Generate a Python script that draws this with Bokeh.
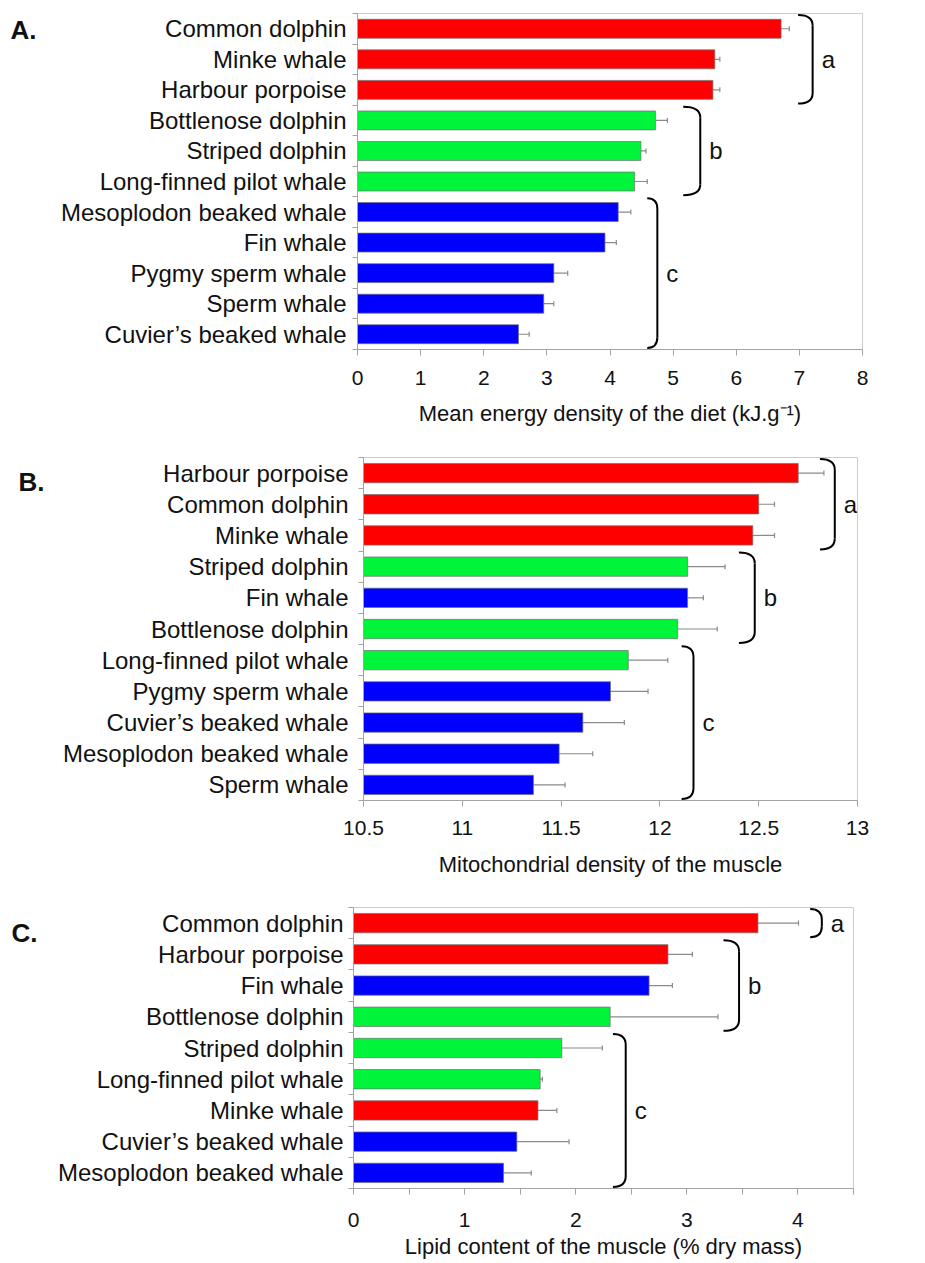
from bokeh.plotting import figure
from bokeh.models import Range1d, FixedTicker, Whisker, TeeHead, ColumnDataSource
from bokeh.layouts import column, row
from bokeh.embed import file_html
from bokeh.resources import INLINE
from bokeh.core.properties import value

# ---------------- data ----------------
# Diet class colour of each species (from panel A grouping)
RED_SPECIES = ["Common dolphin", "Minke whale", "Harbour porpoise"]
GREEN_SPECIES = ["Bottlenose dolphin", "Striped dolphin", "Long-finned pilot whale"]

# Panel A: mean energy density of the diet (kJ.g-1)
A_species = ["Common dolphin", "Minke whale", "Harbour porpoise", "Bottlenose dolphin",
             "Striped dolphin", "Long-finned pilot whale", "Mesoplodon beaked whale",
             "Fin whale", "Pygmy sperm whale", "Sperm whale", "Cuvier\u2019s beaked whale"]
A_values = [6.71, 5.66, 5.63, 4.72, 4.49, 4.39, 4.13, 3.92, 3.11, 2.95, 2.55]
A_errors = [0.13, 0.08, 0.11, 0.19, 0.08, 0.20, 0.20, 0.18, 0.22, 0.16, 0.17]
A_letters = ["a", "b", "c"]
A_spans = [(0, 2), (3, 5), (6, 10)]

# Panel B: mitochondrial density of the muscle
B_species = ["Harbour porpoise", "Common dolphin", "Minke whale", "Striped dolphin",
             "Fin whale", "Bottlenose dolphin", "Long-finned pilot whale",
             "Pygmy sperm whale", "Cuvier\u2019s beaked whale", "Mesoplodon beaked whale",
             "Sperm whale"]
B_values = [12.70, 12.50, 12.47, 12.14, 12.14, 12.09, 11.84, 11.75, 11.61, 11.49, 11.36]
B_errors = [0.13, 0.08, 0.11, 0.19, 0.08, 0.20, 0.20, 0.19, 0.21, 0.17, 0.16]
B_letters = ["a", "b", "c"]
B_spans = [(0, 2), (3, 5), (6, 10)]

# Panel C: lipid content of the muscle (% dry mass)
C_species = ["Common dolphin", "Harbour porpoise", "Fin whale", "Bottlenose dolphin",
             "Striped dolphin", "Long-finned pilot whale", "Minke whale",
             "Cuvier\u2019s beaked whale", "Mesoplodon beaked whale"]
C_values = [3.64, 2.83, 2.66, 2.31, 1.875, 1.68, 1.66, 1.47, 1.35]
C_errors = [0.365, 0.22, 0.21, 0.97, 0.365, 0.02, 0.17, 0.47, 0.25]
C_letters = ["a", "b", "c"]
C_spans = [(0, 0), (1, 3), (4, 8)]

# ---------------- layout / style ----------------
COLORS = {"red": "#ff0000", "green": "#00f53a", "blue": "#0000ff"}
GRAY = "#a3a3a3"
FONT = "Liberation Sans"
W = 925      # page width
LW = 50      # width of the strip that carries the panel letter


def colour_of(name):
    if name in RED_SPECIES:
        return COLORS["red"]
    if name in GREEN_SPECIES:
        return COLORS["green"]
    return COLORS["blue"]


def letter_strip(text, height, lx, ly):
    q = figure(width=LW, height=height, output_backend="svg", toolbar_location=None,
               x_range=Range1d(0, LW), y_range=Range1d(height, 0),
               x_axis_location=None, y_axis_location=None,
               min_border_left=0, min_border_right=0, min_border_top=0, min_border_bottom=0)
    q.grid.visible = False
    q.outline_line_color = None
    q.text(x=[lx], y=[ly], text=[text], text_font=value(FONT), text_font_size="26px",
           text_font_style="bold", text_color="#111111", text_align="left",
           text_baseline="middle")
    return q


def panel(species, values, errors, letters, spans, cfg):
    n = len(species)
    pw = W - LW
    bl = cfg["fl"] - LW
    p = figure(width=pw, height=cfg["height"], output_backend="svg", toolbar_location=None,
               x_range=Range1d(cfg["xmin"], cfg["xmax"]), y_range=Range1d(n - 0.5, -0.5),
               min_border_left=bl, min_border_right=pw - bl - cfg["fw"],
               min_border_top=cfg["bt"], min_border_bottom=cfg["height"] - cfg["bt"] - cfg["fh"])
    p.grid.visible = False
    p.outline_line_color = "#cccccc"
    p.background_fill_color = "white"

    src = ColumnDataSource(dict(
        y=list(range(n)), v=values, hi=[v + e for v, e in zip(values, errors)],
        color=[colour_of(s) for s in species]))
    p.hbar(y="y", left=cfg["xmin"], right="v", height=0.62, fill_color="color",
           line_color="#6f6f6f", line_width=0.7, source=src)
    wh = Whisker(base="y", lower="v", upper="hi", dimension="width", source=src,
                 line_color="#8a8a8a", line_width=1.2, lower_head=None,
                 upper_head=TeeHead(size=5, line_color="#8a8a8a", line_width=1.2))
    p.add_layout(wh)

    # significance brackets
    for letter, (s, e), (x0, x1) in zip(letters, spans, cfg["brackets"]):
        top, bot = s - 0.45, e + 0.45
        d = min(0.35, (bot - top) / 2.0 - 0.05)
        p.quadratic(x0=[x0], y0=[top], x1=[x1], y1=[top + d], cx=[x1], cy=[top],
                    line_color="black", line_width=2)
        p.segment(x0=[x1], y0=[top + d], x1=[x1], y1=[bot - d], line_color="black", line_width=2)
        p.quadratic(x0=[x1], y0=[bot - d], x1=[x0], y1=[bot], cx=[x1], cy=[bot],
                    line_color="black", line_width=2)
        p.text(x=[x1], y=[(top + bot) / 2.0], text=[letter], x_offset=cfg["lofs"],
               text_font=value(FONT), text_font_size="24px", text_color="#111111",
               text_align="left", text_baseline="middle")

    xa = p.xaxis[0]
    xa.ticker = FixedTicker(ticks=cfg["ticks"], minor_ticks=cfg["minor"])
    xa.axis_line_color = GRAY
    xa.major_tick_line_color = GRAY
    xa.minor_tick_line_color = GRAY
    xa.major_tick_in = 0
    xa.major_tick_out = 6
    xa.minor_tick_in = 0
    xa.minor_tick_out = 6
    xa.major_label_text_font = FONT
    xa.major_label_text_font_size = "21px"
    xa.major_label_text_color = "#111111"
    xa.major_label_standoff = cfg["ls"]
    xa.axis_label = cfg["title"]
    xa.axis_label_text_font = FONT
    xa.axis_label_text_font_size = "22px"
    xa.axis_label_text_font_style = "normal"
    xa.axis_label_text_color = "#111111"
    xa.axis_label_standoff = cfg["ts"]

    ya = p.yaxis[0]
    ya.ticker = FixedTicker(ticks=list(range(n)), minor_ticks=[i - 0.5 for i in range(n + 1)])
    ya.major_label_overrides = {i: s for i, s in enumerate(species)}
    ya.axis_line_color = GRAY
    ya.major_tick_line_color = None
    ya.major_tick_in = 0
    ya.major_tick_out = 0
    ya.minor_tick_line_color = GRAY
    ya.minor_tick_in = 0
    ya.minor_tick_out = 5
    ya.major_label_standoff = cfg["ys"]
    ya.major_label_text_font = FONT
    ya.major_label_text_font_size = "24px"
    ya.major_label_text_color = "#111111"

    strip = letter_strip(cfg["panel"], cfg["height"], cfg["lx"], cfg["ly"])
    return row(strip, p)


pA = panel(A_species, A_values, A_errors, A_letters, A_spans, dict(
    height=440, fl=357, fw=505, bt=13, fh=336, xmin=0, xmax=8,
    ticks=[0, 1, 2, 3, 4, 5, 6, 7, 8], minor=[], ls=15, ts=13, ys=6,
    title="Mean energy density of the diet (kJ.g\u207b\u00b9)",
    brackets=[(6.98, 7.21), (5.16, 5.43), (4.59, 4.75)], lofs=9,
    panel="A.", lx=10, ly=22))

pB = panel(B_species, B_values, B_errors, B_letters, B_spans, dict(
    height=440, fl=363, fw=494, bt=17, fh=343, xmin=10.5, xmax=13,
    ticks=[10.5, 11, 11.5, 12, 12.5, 13], minor=[], ls=14, ts=14, ys=10,
    title="Mitochondrial density of the muscle",
    brackets=[(12.81, 12.885), (12.40, 12.48), (12.11, 12.17)], lofs=9,
    panel="B.", lx=18, ly=32))

pC = panel(C_species, C_values, C_errors, C_letters, C_spans, dict(
    height=383, fl=353, fw=500, bt=27, fh=281, xmin=0, xmax=4.5,
    ticks=[0, 1, 2, 3, 4], minor=[0.5, 1.5, 2.5, 3.5, 4.5], ls=18, ts=4, ys=5,
    title="Lipid content of the muscle (% dry mass)",
    brackets=[(4.11, 4.215), (3.33, 3.47), (2.335, 2.45)], lofs=9,
    panel="C.", lx=11, ly=35))

layout = column(pA, pB, pC)
open("out.html", "w").write(file_html(layout, INLINE))
